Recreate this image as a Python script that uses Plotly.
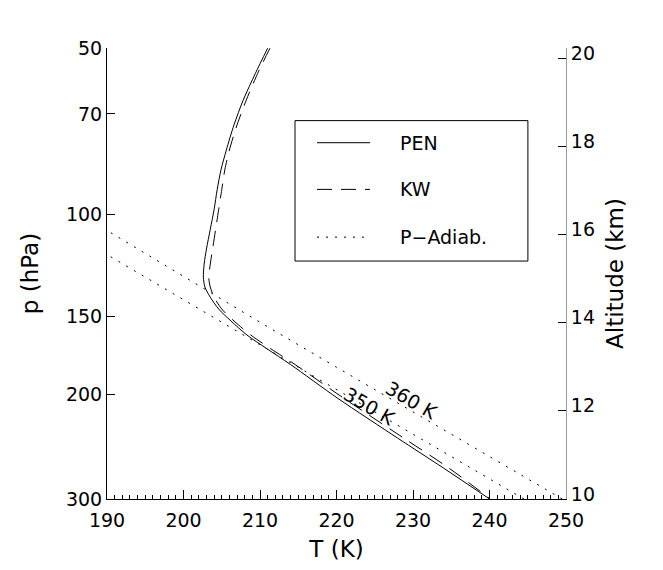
import plotly.graph_objects as go

# ---------------- data ----------------
# PEN profile: temperature (K) vs altitude (km)
pen_T = [211.0, 209.4, 207.8, 206.6, 205.6, 204.9, 204.4, 204.0, 203.5, 203.0,
         202.7, 202.6, 202.8, 203.5, 204.6, 206.2, 208.3, 210.9, 214.0, 220.2,
         228.0, 234.0, 240.0]
pen_z = [20.23, 19.66, 19.05, 18.49, 17.92, 17.47, 17.02, 16.57, 16.12, 15.67,
         15.33, 15.03, 14.81, 14.58, 14.31, 14.04, 13.72, 13.41, 13.05, 12.28,
         11.38, 10.70, 10.0]

# KW profile
kw_T = [211.3, 209.7, 208.2, 207.0, 206.0, 205.4, 205.0, 204.6, 204.2, 203.8,
        203.5, 203.3, 203.5, 204.0, 205.0, 206.6, 208.8, 211.4, 214.6, 221.0,
        228.8, 234.7, 240.1]
kw_z = [20.23, 19.66, 19.05, 18.49, 17.92, 17.47, 17.02, 16.57, 16.12, 15.67,
        15.33, 15.03, 14.81, 14.58, 14.31, 14.04, 13.72, 13.41, 13.05, 12.28,
        11.38, 10.70, 10.0]

# Pseudo-adiabats
pa350_T = [244.5, 234.6, 224.7, 214.9, 205.1, 195.4, 188.5]
pa350_z = [10.0, 11.0, 12.0, 13.0, 14.0, 15.0, 15.7]
pa360_T = [249.5, 239.6, 229.7, 219.9, 210.1, 200.4, 190.8, 188.5]
pa360_z = [10.0, 11.0, 12.0, 13.0, 14.0, 15.0, 16.0, 16.25]

# Axis ticks
x_ticks = [190, 200, 210, 220, 230, 240, 250]
p_labels = ["50", "70", "100", "150", "200", "300"]
p_alt_km = [20.23, 18.74, 16.45, 14.15, 12.37, 10.0]
alt_ticks = [10, 12, 14, 16, 18, 20]

legend_names = ["PEN", "KW", "P\u2212Adiab."]

FONT = "DejaVu Sans"
FS = 19

fig = go.Figure()
fig.add_trace(go.Scatter(x=pa350_T, y=pa350_z, mode="lines",
                         line=dict(color="black", width=1, dash="2px,7px"), showlegend=False))
fig.add_trace(go.Scatter(x=pa360_T, y=pa360_z, mode="lines",
                         line=dict(color="black", width=1, dash="2px,7px"), showlegend=False))
fig.add_trace(go.Scatter(x=kw_T, y=kw_z, mode="lines", line_shape="spline",
                         line=dict(color="black", width=1, dash="15px,9px", smoothing=0.8),
                         showlegend=False))
fig.add_trace(go.Scatter(x=pen_T, y=pen_z, mode="lines", line_shape="spline",
                         line=dict(color="black", width=1, smoothing=0.8), showlegend=False))
# right axis carrier
fig.add_trace(go.Scatter(x=[None], y=[None], yaxis="y2", showlegend=False))

# contour labels
fig.add_annotation(x=229.8, y=12.25, text="360 K", showarrow=False, textangle=30,
                   font=dict(family=FONT, size=FS, color="black"))
fig.add_annotation(x=224.3, y=12.12, text="350 K", showarrow=False, textangle=30,
                   font=dict(family=FONT, size=FS, color="black"))

# manual legend box
lx0, lx1, ly0, ly1 = 0.4096, 0.917, 0.5276, 0.839
fig.add_shape(type="rect", xref="paper", yref="paper", x0=lx0, x1=lx1, y0=ly0, y1=ly1,
              line=dict(color="black", width=1), fillcolor="white", layer="above")
rows_y = [0.790, 0.6865, 0.5806]
dashes = ["solid", "15px,9px", "2px,7px"]
for name, ry, d in zip(legend_names, rows_y, dashes):
    fig.add_shape(type="line", xref="paper", yref="paper", x0=0.4575, x1=0.573, y0=ry, y1=ry,
                  line=dict(color="black", width=1, dash=d), layer="above")
    fig.add_annotation(xref="paper", yref="paper", x=0.634, y=ry, text=name, showarrow=False,
                       xanchor="left", yanchor="middle",
                       font=dict(family=FONT, size=FS, color="black"))

fig.update_layout(
    width=663, height=570,
    margin=dict(l=107, r=97, t=48, b=69),
    plot_bgcolor="white", paper_bgcolor="white",
    font=dict(family=FONT, size=FS, color="black"),
    showlegend=False,
    xaxis=dict(range=[190, 250], tickvals=x_ticks, ticks="inside", ticklen=9,
               tickcolor="black", showline=True, linecolor="black", linewidth=1,
               showgrid=False, zeroline=False, mirror=False, ticklabelstandoff=4,
               minor=dict(dtick=1, ticks="inside", ticklen=4, tickcolor="black"),
               title=dict(text="T (K)", standoff=11)),
    yaxis=dict(range=[9.999, 20.235], tickvals=p_alt_km, ticktext=p_labels,
               ticks="inside", ticklen=8, tickcolor="black", showline=True,
               linecolor="black", linewidth=1, showgrid=False, zeroline=False,
               title=dict(text="p (hPa)", standoff=20)),
    yaxis2=dict(range=[9.999, 20.235], tickvals=alt_ticks, overlaying="y", side="right",
                ticks="inside", ticklen=8, tickcolor="black", showline=True,
                linecolor="#9a9a9a", linewidth=1, showgrid=False, zeroline=False,
                ticklabelshift=-5,
                title=dict(text="Altitude (km)", standoff=12)),
)

fig.write_html("out.html")
